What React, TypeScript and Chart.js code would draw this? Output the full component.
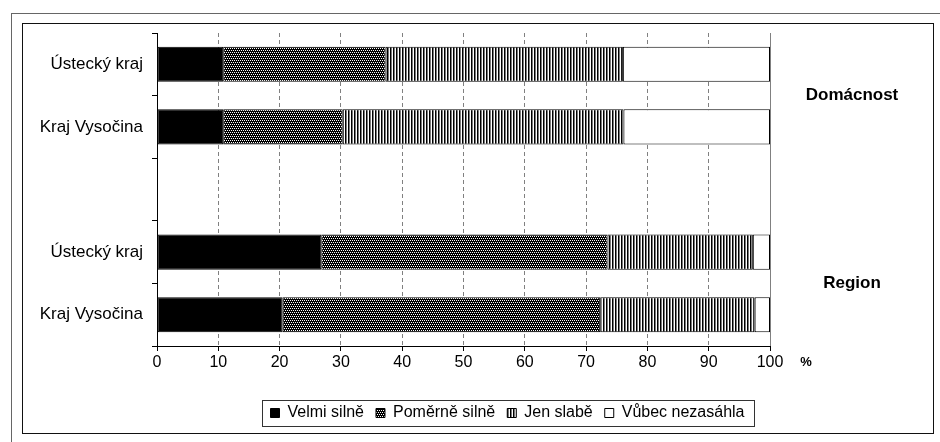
import React, { useEffect, useRef } from 'react';
import { Chart, registerables } from 'chart.js';

Chart.register(...registerables);

// ---- data ----
const categories = ['Ústecký kraj', 'Kraj Vysočina', '', 'Ústecký kraj', 'Kraj Vysočina'];
const seriesNames = ['Velmi silně', 'Poměrně silně', 'Jen slabě', 'Vůbec nezasáhla'];
const velmiSilne = [10.8, 10.8, null, 26.8, 20.5];
const pomerneSilne = [26.5, 19.5, null, 46.7, 51.8];
const jenSlabe = [38.7, 45.8, null, 23.7, 25.2];
const vubecNezasahla = [24.0, 23.9, null, 2.8, 2.5];
const groupLabels = ['Domácnost', 'Region'];
const groupMembers = [[0, 1], [3, 4]];
const xMin = 0;
const xMax = 100;
const xStep = 10;
const unitLabel = '%';

const FONT = "'Liberation Sans', Arial, Helvetica, sans-serif";

export default function App() {
  const ref = useRef<HTMLCanvasElement>(null);

  useEffect(() => {
    const canvas = ref.current!;
    const mainCtx = canvas.getContext('2d')!;
    const mkPattern = (w: number, h: number, draw: (g: CanvasRenderingContext2D) => void) => {
      const c = document.createElement('canvas');
      c.width = w;
      c.height = h;
      const g = c.getContext('2d')!;
      draw(g);
      return mainCtx.createPattern(c, 'repeat')!;
    };
    const dots = mkPattern(4, 4, (g) => {
      g.fillStyle = '#000';
      g.fillRect(0, 0, 4, 4);
      g.fillStyle = '#fff';
      g.fillRect(0, 0, 1, 1);
      g.fillRect(2, 0, 1, 1);
      g.fillRect(1, 2, 1, 1);
      g.fillRect(3, 2, 1, 1);
    });
    const stripes = mkPattern(3, 1, (g) => {
      g.fillStyle = '#fff';
      g.fillRect(0, 0, 3, 1);
      g.fillStyle = '#000';
      g.fillRect(0, 0, 1, 1);
      g.fillStyle = '#7a7a7a';
      g.fillRect(1, 0, 1, 1);
    });

    const fills: any[] = ['#000', dots, stripes, '#fff'];
    const values = [velmiSilne, pomerneSilne, jenSlabe, vubecNezasahla];

    const LEGEND_CENTER = 507.5;
    const FRAME_RIGHT = 934;

    const legendShift = {
      id: 'legendShift',
      afterLayout(chart: any) {
        const lg = chart.legend;
        if (!lg) return;
        const d = LEGEND_CENTER - (lg.left + lg.right) / 2;
        lg.left += d;
        lg.right += d;
      },
    };

    const legendFrame = {
      id: 'legendFrame',
      afterDraw(chart: any) {
        const lg = chart.legend;
        if (!lg || !lg.legendHitBoxes || !lg.legendHitBoxes.length) return;
        const hb = lg.legendHitBoxes;
        const first = hb[0];
        const last = hb[hb.length - 1];
        const ctx = chart.ctx;
        ctx.save();
        ctx.strokeStyle = '#333';
        ctx.lineWidth = 1;
        const left = Math.round(first.left - 9) + 0.5;
        const right = Math.round(last.left + last.width + 9) + 0.5;
        const top = Math.round(first.top - 5) + 0.5;
        const bottom = Math.round(first.top + first.height + 5) + 0.5;
        ctx.strokeRect(left, top, right - left, bottom - top);
        ctx.restore();
      },
    };

    const textPlugin = {
      id: 'textPlugin',
      afterDraw(chart: any) {
        const xs = chart.scales.x;
        const ys = chart.scales.y;
        const ctx = chart.ctx;
        ctx.save();
        ctx.fillStyle = '#000';
        ctx.textAlign = 'center';
        ctx.textBaseline = 'middle';
        // unit label next to the x tick labels
        ctx.font = `bold 13px ${FONT}`;
        ctx.fillText(unitLabel, xs.right + 36, xs.top + 5 + 2 + 9.6);
        // group labels on the right
        ctx.font = `bold 17px ${FONT}`;
        const cx = (chart.chartArea.right + FRAME_RIGHT) / 2;
        groupLabels.forEach((lab, i) => {
          const m = groupMembers[i];
          const y = m.reduce((s, idx) => s + ys.getPixelForValue(idx), 0) / m.length;
          ctx.fillText(lab, cx, y);
        });
        ctx.restore();
      },
    };

    const chart = new Chart(canvas, {
      type: 'bar',
      data: {
        labels: categories,
        datasets: seriesNames.map((name, i) => ({
          label: name,
          data: values[i] as any,
          backgroundColor: fills[i],
          borderColor: '#000',
          borderWidth: 1,
          borderSkipped: false,
          categoryPercentage: 1,
          barPercentage: 0.56,
        })),
      },
      options: {
        indexAxis: 'y',
        animation: false,
        responsive: false,
        devicePixelRatio: 1,
        font: { family: FONT },
        layout: { padding: { left: 0, right: 170, top: 33, bottom: 11 } },
        scales: {
          x: {
            type: 'linear',
            stacked: true,
            min: xMin,
            max: xMax,
            ticks: { stepSize: xStep, color: '#000', font: { family: FONT, size: 16 }, padding: 2 },
            grid: {
              color: '#808080',
              lineWidth: 1,
              tickColor: '#000',
              tickLength: 5,
              drawTicks: true,
            },
            border: {
              display: true,
              color: '#000',
              width: 1,
              dash: (c: any) => (c && c.index === (xMax - xMin) / xStep ? [] : [4, 3]),
            },
            afterFit: (s: any) => {
              s.height = 47;
              s.paddingLeft = 0;
              s.paddingRight = 0;
            },
          },
          y: {
            type: 'category',
            stacked: true,
            ticks: { color: '#000', font: { family: FONT, size: 17 }, padding: 9 },
            grid: {
              display: true,
              drawOnChartArea: false,
              drawTicks: true,
              tickLength: 5,
              offset: true,
              tickColor: '#000',
              color: '#000',
            },
            border: { display: true, color: '#000', width: 1 },
            afterFit: (s: any) => {
              s.width = 157;
              s.paddingTop = 0;
              s.paddingBottom = 0;
            },
          },
        },
        plugins: {
          legend: {
            position: 'bottom',
            labels: {
              boxWidth: 9,
              boxHeight: 9,
              padding: 12,
              color: '#000',
              font: { family: FONT, size: 16 },
            },
          },
          tooltip: { enabled: false },
          title: { display: false },
        },
      } as any,
      plugins: [legendShift, legendFrame, textPlugin],
    });

    return () => chart.destroy();
  }, []);

  return (
    <div
      style={{
        position: 'absolute',
        left: 0,
        top: 0,
        width: 940,
        height: 442,
        overflow: 'hidden',
        background: '#fff',
      }}
    >
      <div
        style={{
          position: 'absolute',
          left: 11,
          top: 13,
          width: 1000,
          height: 1000,
          borderTop: '1.5px solid #666',
          borderLeft: '1.5px solid #666',
        }}
      />
      <div
        style={{
          position: 'absolute',
          left: 22,
          top: 23,
          width: 910,
          height: 409,
          border: '1.5px solid #111',
        }}
      />
      <canvas
        ref={ref}
        width={940}
        height={442}
        style={{ position: 'absolute', left: 0, top: 0, width: 940, height: 442 }}
      />
    </div>
  );
}
